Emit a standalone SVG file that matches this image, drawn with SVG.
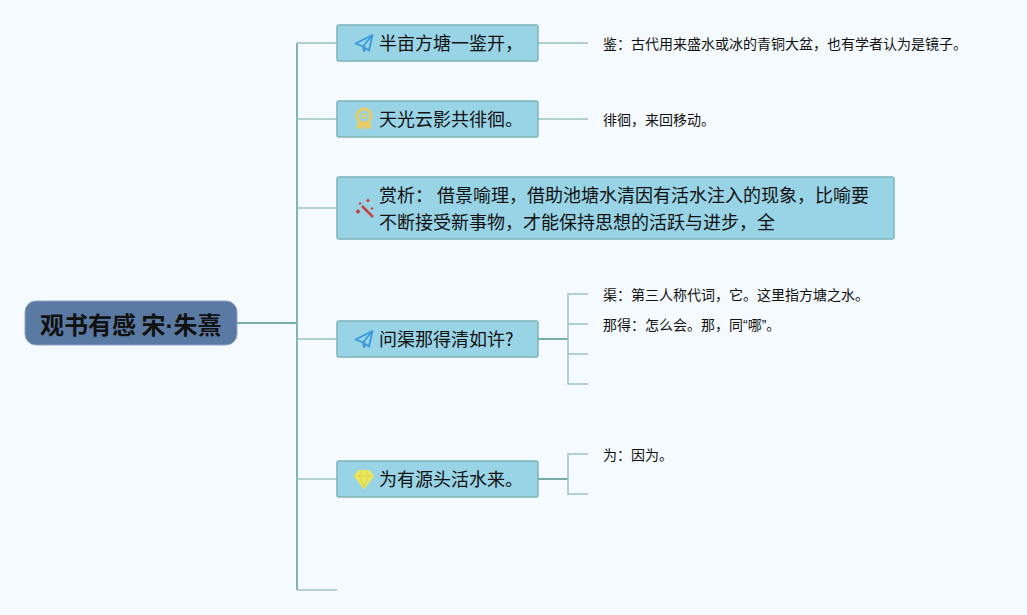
<svg xmlns="http://www.w3.org/2000/svg" width="1027" height="615" viewBox="0 0 1027 615">
<style>
.bg{fill:#f5faff}
.c{fill:none;stroke:#9cc4bf;stroke-width:1.500}
.s{fill:none;stroke:#76aea6;stroke-width:1.800}
.n{fill:#98d3e6;stroke:#7db3b5;stroke-width:1.500}
.r{fill:#5b7aa3;stroke:#8ea3c2;stroke-width:1}
text{font-family:"Noto Sans CJK SC","Liberation Sans",sans-serif;fill:#111}
.t{font-size:18px}
.d{font-size:14px}
.h{font-size:24px;font-weight:700}
.l{font-family:"Liberation Sans",sans-serif}
</style>
<defs>
<g id="plane"><path d="M-8.500 0.500L8.500-8L5 7.500L-1 3.500ZM8.500-8L-1 3.500L0 8L2 5" fill="none" stroke="#3a9ad9" stroke-width="1.800" stroke-linejoin="round"/></g>
</defs>
<rect class="bg" width="1027" height="615"/>
<g id="connectors">
<path class="s" d="M237 323H297"/>
<path class="s" d="M297 590V43"/>
<path class="c" d="M297 43H337M297 119H337M297 208H337M297 339H337M297 590H337"/>
<path class="c" d="M297 479H337"/>
<path class="c" d="M538 43H588M538 119H588"/>
<path class="s" d="M538 339H568M538 479H568"/>
<path class="c" d="M588 294H568V384H588M568 324H588M568 354H588"/>
<path class="c" d="M588 454H568V494H588"/>
</g>
<g id="root">
<rect class="r" x="25" y="301" width="212" height="44" rx="11"/>
<text class="h" x="40" y="334">观书有感 宋<tspan class="l">·</tspan>朱熹</text>
</g>
<g id="node1">
<rect class="n" x="337" y="25" width="201" height="36" rx="2"/>
<use href="#plane" x="364" y="43"/>
<text class="t" x="379" y="50">半亩方塘一鉴开，</text>
</g>
<g id="node2">
<rect class="n" x="337" y="101" width="201" height="36" rx="2"/>
<circle cx="364" cy="116" r="7" fill="none" stroke="#e8cc62" stroke-width="3"/>
<circle cx="364" cy="116" r="2" fill="none" stroke="#e8cc62" stroke-width="1.500"/>
<path d="M358 122L356 129L360 128L362 130L364 125L366 130L368 128L372 129L370 122Z" fill="#e8cc62"/>
<text class="t" x="379" y="126">天光云影共徘徊。</text>
</g>
<g id="node3">
<rect class="n" x="337" y="177" width="557" height="62" rx="2"/>
<path d="M362 206L373 217" stroke="#c8403f" stroke-width="2.500" fill="none"/>
<path d="M358 209l2.500 2.500-2.500 2.500-2.500-2.500zM368 198.500l2 2-2 2-2-2zM360 202l1.500 1.500-1.500 1.500-1.500-1.500zM372 207l1.500 1.500-1.500 1.500-1.500-1.500z" fill="#c8403f"/>
<text class="t" x="379" y="202">赏析： 借景喻理，借助池塘水清因有活水注入的现象，比喻要</text>
<text class="t" x="379" y="229">不断接受新事物，才能保持思想的活跃与进步，全</text>
</g>
<g id="node4">
<rect class="n" x="337" y="321" width="201" height="36" rx="2"/>
<use href="#plane" x="364" y="339"/>
<text class="t" x="379" y="346">问渠那得清如许?</text>
</g>
<g id="node5">
<rect class="n" x="337" y="461" width="201" height="36" rx="2"/>
<path d="M359 471H369L373 476L364 488L355 476Z" fill="#eee65a" stroke="#eee65a" stroke-width="2" stroke-linejoin="round"/>
<path d="M355 476H373M361 471L359.500 476L364 488L368.500 476L367 471" fill="none" stroke="#d3d84e" stroke-width="1"/>
<text class="t" x="379" y="486">为有源头活水来。</text>
</g>
<g id="note1"><text class="d" x="603" y="49">鉴：古代用来盛水或冰的青铜大盆，也有学者认为是镜子。</text></g>
<g id="note2"><text class="d" x="603" y="125">徘徊，来回移动。</text></g>
<g id="note3"><text class="d" x="603" y="300">渠：第三人称代词，它。这里指方塘之水。</text></g>
<g id="note4"><text class="d" x="603" y="330">那得：怎么会。那，同<tspan class="l">“</tspan>哪<tspan class="l">”</tspan>。</text></g>
<g id="note5"><text class="d" x="603" y="460">为：因为。</text></g>
</svg>
